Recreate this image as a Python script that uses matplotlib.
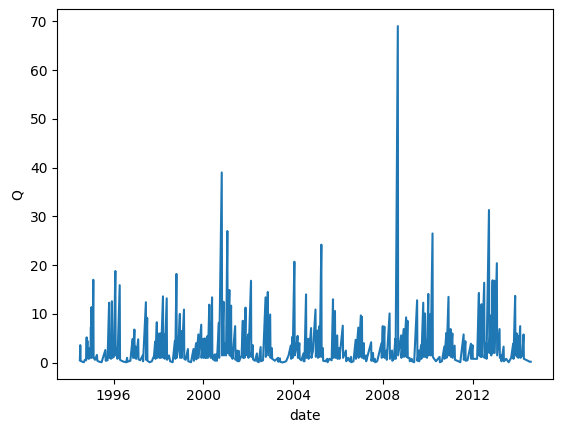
import matplotlib
matplotlib.use("Agg")
import matplotlib.pyplot as plt
import matplotlib.dates as mdates
import numpy as np
import pandas as pd

# discharge readings picked off the hydrograph (peaks and the lows between them)
dates = [
    "1994-07-01", "1994-07-08", "1994-07-14", "1994-08-10", "1994-09-05", "1994-09-20", "1994-10-10", "1994-10-20",
    "1994-10-26", "1994-11-01", "1994-11-06", "1994-11-25", "1994-12-10", "1994-12-20", "1994-12-28",
    "1995-01-02", "1995-01-07", "1995-01-12", "1995-01-25", "1995-02-05", "1995-02-10", "1995-02-20", "1995-03-05",
    "1995-04-05", "1995-04-12", "1995-05-15", "1995-06-20", "1995-08-20", "1995-08-26", "1995-09-25", "1995-10-20",
    "1995-10-26", "1995-11-10", "1995-11-20", "1995-12-05", "1995-12-10",
    "1996-01-05", "1996-01-30", "1996-02-04", "1996-02-25", "1996-03-05", "1996-04-10", "1996-04-15", "1996-05-10",
    "1996-06-15", "1996-07-25", "1996-08-08", "1996-08-14", "1996-09-30", "1996-10-25", "1996-11-08", "1996-11-14",
    "1996-12-05", "1996-12-10", "1996-12-20",
    "1997-01-02", "1997-02-05", "1997-02-10", "1997-03-10", "1997-04-20", "1997-04-26", "1997-06-10", "1997-06-14",
    "1997-07-01", "1997-07-05", "1997-08-10", "1997-09-15", "1997-10-20", "1997-11-08", "1997-11-14", "1997-12-05",
    "1997-12-10",
    "1998-01-10", "1998-01-16", "1998-02-05", "1998-02-10", "1998-03-15", "1998-03-20", "1998-04-10", "1998-04-14",
    "1998-05-15", "1998-05-20", "1998-06-20", "1998-07-10", "1998-08-20", "1998-09-25", "1998-10-02", "1998-10-20",
    "1998-10-26", "1998-11-20", "1998-12-15", "1998-12-20",
    "1999-01-10", "1999-01-15", "1999-02-20", "1999-02-25", "1999-03-20", "1999-04-25", "1999-05-01", "1999-06-15",
    "1999-07-25", "1999-08-01", "1999-09-05", "1999-09-10", "1999-10-12", "1999-10-16", "1999-11-28", "1999-12-03",
    "1999-12-30",
    "2000-01-05", "2000-01-25", "2000-02-01", "2000-02-14", "2000-02-20", "2000-03-10", "2000-03-16", "2000-04-07",
    "2000-04-12", "2000-04-25", "2000-05-01", "2000-05-22", "2000-05-27", "2000-06-15", "2000-07-05", "2000-07-10",
    "2000-08-05", "2000-08-10", "2000-09-10", "2000-09-15", "2000-10-27", "2000-11-02", "2000-11-25", "2000-12-01",
    "2000-12-15",
    "2001-01-05", "2001-01-26", "2001-02-01", "2001-02-28", "2001-03-05", "2001-03-28", "2001-04-02", "2001-04-15",
    "2001-04-20", "2001-06-02", "2001-06-08", "2001-07-05", "2001-07-10", "2001-08-02", "2001-08-06", "2001-09-15",
    "2001-10-05", "2001-10-10", "2001-10-25", "2001-11-01", "2001-11-18", "2001-11-24", "2001-12-10", "2001-12-31",
    "2002-01-05", "2002-02-15", "2002-02-20", "2002-03-15", "2002-03-20", "2002-04-20", "2002-05-22", "2002-05-27",
    "2002-06-20", "2002-07-22", "2002-07-27", "2002-08-30", "2002-10-10", "2002-10-15", "2002-10-25", "2002-11-16",
    "2002-11-22", "2002-12-24", "2002-12-30",
    "2003-01-20", "2003-01-26", "2003-02-20", "2003-03-10", "2003-05-01", "2003-05-05", "2003-06-01", "2003-06-05",
    "2003-07-15", "2003-09-10", "2003-10-20", "2003-11-24", "2003-11-30", "2003-12-20", "2003-12-25",
    "2004-01-22", "2004-01-28", "2004-02-20", "2004-03-15", "2004-03-20", "2004-04-12", "2004-04-18", "2004-05-15",
    "2004-06-18", "2004-06-22", "2004-07-05", "2004-07-30", "2004-08-04", "2004-09-05", "2004-09-10", "2004-10-20",
    "2004-10-26", "2004-11-20", "2004-12-31",
    "2005-01-06", "2005-02-05", "2005-02-10", "2005-03-05", "2005-03-10", "2005-04-05", "2005-04-10", "2005-04-30",
    "2005-05-05", "2005-06-10", "2005-07-10", "2005-07-15", "2005-08-15", "2005-09-20", "2005-10-12", "2005-10-16",
    "2005-11-13", "2005-11-18", "2005-12-20", "2005-12-25",
    "2006-01-20", "2006-01-25", "2006-03-20", "2006-03-25", "2006-05-10", "2006-05-15", "2006-06-15", "2006-07-10",
    "2006-08-01", "2006-08-05", "2006-09-10", "2006-10-16", "2006-10-21", "2006-11-28", "2006-12-03",
    "2007-01-08", "2007-01-13", "2007-01-26", "2007-01-31", "2007-02-25", "2007-03-01", "2007-04-01", "2007-04-05",
    "2007-06-25", "2007-06-30", "2007-07-25", "2007-08-01", "2007-08-25", "2007-08-30", "2007-10-01", "2007-12-10",
    "2007-12-15", "2007-12-31",
    "2008-01-05", "2008-01-26", "2008-01-31", "2008-03-01", "2008-03-05", "2008-04-20", "2008-04-25", "2008-05-30",
    "2008-06-03", "2008-06-30", "2008-07-22", "2008-07-27", "2008-09-01", "2008-09-06", "2008-10-25", "2008-10-30",
    "2008-12-05", "2008-12-10",
    "2009-01-14", "2009-01-19", "2009-02-05", "2009-02-10", "2009-03-10", "2009-03-15", "2009-04-15", "2009-04-20",
    "2009-05-25", "2009-07-12", "2009-07-17", "2009-08-10", "2009-08-15", "2009-09-15", "2009-09-20", "2009-10-20",
    "2009-10-25", "2009-11-17", "2009-11-22", "2009-12-16", "2009-12-20",
    "2010-01-10", "2010-01-15", "2010-02-14", "2010-02-18", "2010-03-20", "2010-03-25", "2010-04-15", "2010-05-15",
    "2010-07-13", "2010-07-18", "2010-08-20", "2010-09-28", "2010-10-02", "2010-10-30", "2010-11-04", "2010-12-05",
    "2010-12-10",
    "2011-01-08", "2011-01-12", "2011-02-06", "2011-02-10", "2011-03-15", "2011-03-20", "2011-05-15", "2011-06-15",
    "2011-08-08", "2011-08-12", "2011-09-06", "2011-09-10", "2011-10-10", "2011-12-05", "2011-12-10", "2011-12-31",
    "2012-01-05", "2012-02-01", "2012-03-15", "2012-04-13", "2012-04-17", "2012-05-08", "2012-05-12", "2012-05-26",
    "2012-05-31", "2012-07-08", "2012-07-13", "2012-08-10", "2012-08-15", "2012-09-24", "2012-09-29", "2012-10-27",
    "2012-11-01", "2012-11-22", "2012-11-27", "2012-12-20", "2012-12-26",
    "2013-01-30", "2013-02-04", "2013-03-15", "2013-03-20", "2013-04-10", "2013-04-15", "2013-05-20", "2013-05-25",
    "2013-07-01", "2013-08-10", "2013-09-20", "2013-10-23", "2013-10-28", "2013-11-24", "2013-11-29", "2013-12-20",
    "2013-12-25",
    "2014-01-10", "2014-01-15", "2014-02-14", "2014-02-19", "2014-03-20", "2014-04-10", "2014-04-15", "2014-05-20",
    "2014-06-20", "2014-07-20", "2014-08-05",
]

q = [
    0.5, 3.6, 0.4, 0.2, 0.1, 0.6, 0.5, 5.2, 1.2, 4.5, 0.9, 0.8, 3.0, 1.0, 7.3,
    1.5, 11.4, 1.0, 3.0, 17.0, 1.2, 0.8, 0.6, 1.6, 0.4, 0.2, 0.1, 2.6, 0.4, 0.5, 12.3, 1.0, 3.2, 0.8, 12.6, 1.0,
    1.2, 18.8, 1.5, 3.0, 0.8, 15.9, 0.6, 0.4, 0.2, 0.1, 1.0, 0.2, 0.4, 3.5, 4.9, 1.0, 6.8, 1.0, 3.3,
    0.8, 4.8, 0.7, 0.5, 1.5, 0.3, 12.4, 0.6, 9.2, 0.4, 0.1, 0.3, 1.4, 4.3, 0.8, 8.3, 1.0,
    6.0, 1.0, 6.0, 1.0, 13.6, 1.0, 5.8, 0.8, 13.2, 0.6, 1.5, 0.3, 0.1, 4.5, 0.8, 18.2, 1.0, 3.0, 10.0, 1.0,
    6.5, 1.0, 10.9, 0.8, 0.6, 2.8, 0.3, 0.1, 2.8, 0.4, 4.0, 0.7, 5.8, 1.0, 7.8, 1.0, 4.9,
    1.0, 5.0, 1.0, 3.6, 1.0, 5.5, 1.0, 11.9, 1.5, 6.0, 1.0, 13.4, 1.0, 0.6, 1.7, 0.4, 1.8, 0.4, 8.2, 1.0,
    39.0, 1.5, 12.5, 1.5, 4.0,
    1.5, 27.0, 2.0, 14.9, 1.5, 11.7, 1.2, 3.0, 0.8, 7.5, 0.6, 2.5, 0.3, 2.4, 0.3, 1.5, 8.6, 1.0, 4.5, 1.0,
    11.3, 1.5, 3.5, 5.8,
    1.0, 16.8, 1.2, 3.6, 0.7, 0.4, 1.9, 0.3, 0.1, 3.2, 0.3, 0.5, 13.4, 1.2, 4.0, 14.5, 1.5, 9.9, 1.0,
    3.0, 0.8, 0.6, 0.4, 1.0, 0.2, 0.9, 0.2, 0.05, 0.3, 1.5, 3.5, 0.8, 5.3, 1.0,
    20.7, 1.5, 3.0, 5.5, 1.0, 4.0, 0.8, 0.5, 1.9, 0.3, 0.3, 14.0, 1.0, 4.9, 0.8, 7.1, 1.0, 2.5, 10.9,
    1.2, 6.6, 1.0, 7.5, 1.2, 24.2, 1.2, 3.0, 0.4, 0.3, 0.8, 0.1, 0.8, 0.5, 13.0, 1.0, 10.6, 1.0, 5.6, 0.8,
    3.0, 0.8, 7.6, 1.0, 2.5, 0.3, 1.0, 0.3, 1.2, 0.1, 0.3, 4.7, 0.8, 7.2, 1.0,
    9.7, 1.2, 9.4, 1.0, 4.0, 0.8, 1.5, 0.3, 4.2, 0.4, 2.0, 0.3, 0.8, 0.1, 0.3, 4.0, 1.0, 7.5,
    1.2, 7.4, 1.0, 2.5, 0.6, 10.1, 0.8, 2.5, 0.4, 0.8, 4.9, 0.8, 69.0, 1.5, 5.6, 1.0, 6.9, 1.2,
    9.3, 1.2, 8.6, 1.0, 1.0, 0.3, 0.8, 0.3, 0.1, 12.8, 0.4, 2.5, 0.3, 3.6, 0.8, 12.3, 1.2, 10.1, 1.2, 4.6, 1.0,
    14.1, 1.5, 10.0, 1.5, 26.5, 1.2, 0.8, 0.3, 1.2, 0.1, 0.3, 3.3, 0.8, 6.1, 1.0, 13.5, 1.5,
    6.9, 1.2, 6.0, 1.0, 3.5, 0.6, 0.3, 0.1, 5.8, 0.6, 4.4, 0.4, 0.5, 3.9, 0.8, 3.6,
    0.8, 0.8, 0.8, 14.3, 1.5, 10.0, 1.2, 12.0, 1.2, 16.4, 1.0, 4.0, 0.8, 31.3, 2.0, 9.7, 1.5, 16.9, 2.0, 16.8, 2.0,
    20.4, 1.5, 6.9, 1.0, 1.5, 0.3, 3.3, 0.3, 0.8, 0.1, 1.0, 3.9, 0.8, 13.7, 1.5, 6.0, 1.2,
    5.5, 1.0, 7.5, 1.0, 1.5, 5.8, 0.8, 0.6, 0.4, 0.2, 0.2,
]

assert len(dates) == len(q), (len(dates), len(q))

fig = plt.figure(figsize=(5.63, 4.32), dpi=100)
ax = fig.add_axes([57.3 / 563, 52.7 / 432, 496 / 563, 370 / 432])

ax.plot(pd.to_datetime(dates), np.array(q), color="#1f77b4", lw=1.5)

ax.xaxis.set_major_locator(mdates.YearLocator(4))
ax.xaxis.set_major_formatter(mdates.DateFormatter("%Y"))
ax.set_xlabel("date")
ax.set_ylabel("Q")

fig.savefig("out.png", dpi=100)
